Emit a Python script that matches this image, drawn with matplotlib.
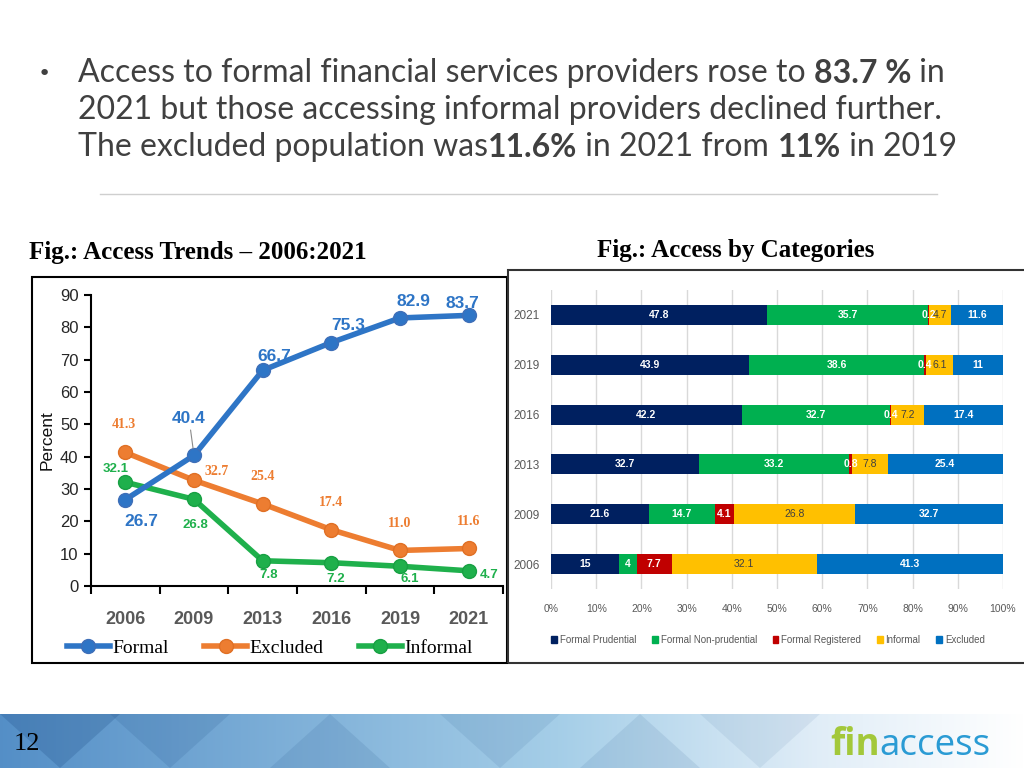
import numpy as np
import matplotlib.pyplot as plt
from matplotlib.lines import Line2D
from matplotlib.patches import Rectangle, Polygon

# ---- data ----
years = ['2006', '2009', '2013', '2016', '2019', '2021']
formal = [26.7, 40.4, 66.7, 75.3, 82.9, 83.7]
excluded = [41.3, 32.7, 25.4, 17.4, 11.0, 11.6]
informal = [32.1, 26.8, 7.8, 7.2, 6.1, 4.7]

cat_names = ['Formal Prudential', 'Formal Non-prudential', 'Formal Registered', 'Informal', 'Excluded']
prudential = [15, 21.6, 32.7, 42.2, 43.9, 47.8]
non_prudential = [4, 14.7, 33.2, 32.7, 38.6, 35.7]
registered = [7.7, 4.1, 0.8, 0.4, 0.4, 0.2]
informal_cat = [32.1, 26.8, 7.8, 7.2, 6.1, 4.7]
excluded_cat = [41.3, 32.7, 25.4, 17.4, 11, 11.6]

W, H = 1024, 768


def fx(px):
    return px / W


def fy(py):
    return 1 - py / H


fig = plt.figure(figsize=(10.24, 7.68), dpi=100)
overlay = fig.add_axes([0, 0, 1, 1], zorder=5)
overlay.set_xlim(0, 1)
overlay.set_ylim(0, 1)
overlay.axis('off')

# ---- bullet text ----
txt_color = '#404040'
txt_font = 'Lato'
txt_size = 23


def draw_runs(x, y, runs):
    t = overlay.text(x, y, runs[0][0], fontsize=txt_size, family=txt_font,
                     weight=runs[0][1], color=txt_color, va='baseline')
    for s, w in runs[1:]:
        t = overlay.annotate(s, xy=(1, 0), xycoords=t, fontsize=txt_size, family=txt_font,
                             weight=w, color=txt_color, va='bottom', ha='left')
    return t


overlay.text(fx(38), fy(80), '\u2022', fontsize=16, color=txt_color, va='baseline')
draw_runs(fx(78), fy(82), [('Access to formal financial services providers rose to ', 'normal'),
                           ('83.7 %', 'bold'), (' in', 'normal')])
draw_runs(fx(78), fy(119), [('2021 but those accessing informal providers declined further.', 'normal')])
draw_runs(fx(78), fy(156), [('The excluded population was', 'normal'), ('11.6%', 'bold'),
                            (' in 2021 from ', 'normal'), ('11%', 'bold'), (' in 2019', 'normal')])
overlay.add_line(Line2D([fx(100), fx(937)], [fy(194)] * 2, color='#cfcfcf', lw=1))

# ---- figure titles ----
overlay.text(fx(29), fy(252), 'Fig.: Access Trends \u2013 2006:2021', family='Liberation Serif',
             weight='bold', fontsize=18, va='center', color='black')
overlay.text(fx(597), fy(250), 'Fig.: Access by Categories', family='Liberation Serif',
             weight='bold', fontsize=18, va='center', color='black')

# chart frames
fig.add_artist(Rectangle((fx(32), fy(663)), fx(507) - fx(32), (663 - 277) / H,
                         transform=fig.transFigure, fill=False, ec='black', lw=1.5))
fig.add_artist(Rectangle((fx(508), fy(663)), fx(1030) - fx(508), (663 - 270) / H,
                         transform=fig.transFigure, fill=False, ec='#333333', lw=1.5))

# ---- left: line chart ----
ax1 = fig.add_axes([fx(91), fy(586), fx(503) - fx(91), (586 - 295) / H])
xs = np.arange(len(years)) + 0.5
c_formal, c_excl, c_inf = '#2e75c6', '#ed7d31', '#1fb04c'
ax1.plot(xs, informal, color=c_inf, lw=4, marker='o', ms=10, mec='#18a043', zorder=3)
ax1.plot(xs, excluded, color=c_excl, lw=4, marker='o', ms=10, mec='#e07025', zorder=3)
ax1.plot(xs, formal, color=c_formal, lw=4, marker='o', ms=10, mec='#3f6fb8', zorder=4)

ax1.set_xlim(0, len(years))
ax1.set_ylim(0, 90)
ax1.set_yticks(range(0, 91, 10))
ax1.set_xticks(np.arange(len(years) + 1))
ax1.set_xticklabels([])
ax1.set_xticks(xs, minor=True)
ax1.set_xticklabels(years, minor=True, family='Liberation Sans', weight='bold',
                    fontsize=13, color='#595959')
ax1.tick_params(axis='x', which='minor', length=0, pad=18)
ax1.tick_params(axis='x', which='major', length=6, width=1.5, direction='out')
ax1.tick_params(axis='y', length=5, width=1.5, labelsize=12, labelcolor='#262626', pad=4)
for lab in ax1.get_yticklabels():
    lab.set_family('Liberation Sans')
for s in ['top', 'right']:
    ax1.spines[s].set_visible(False)
for s in ['left', 'bottom']:
    ax1.spines[s].set_linewidth(1.5)
ax1.set_ylabel('Percent', family='Liberation Sans', fontsize=12.5, color='#111111', labelpad=4)

formal_off = [(16, -22), (-5, 37), (12, 14), (17, 17), (13, 16), (-6, 12)]
excl_off = [(-1, 28), (23, 9), (0, 27), (0, 27), (0, 27), (0, 27)]
inf_off = [(-10, 13), (1, -26), (6, -14), (4, -16), (10, -13), (20, -4)]
for i, v in enumerate(formal):
    arrow = dict(arrowstyle='-', color='#8a8a8a', lw=0.8, shrinkA=1, shrinkB=5) if i == 1 else None
    ax1.annotate(f'{v:.1f}', xy=(xs[i], v), xytext=formal_off[i], textcoords='offset pixels',
                 ha='center', va='center', color=c_formal, weight='bold', fontsize=12.5,
                 family='Liberation Sans', arrowprops=arrow, zorder=6)
for i, v in enumerate(excluded):
    ax1.annotate(f'{v:.1f}', xy=(xs[i], v), xytext=excl_off[i], textcoords='offset pixels',
                 ha='center', va='center', color=c_excl, weight='bold', fontsize=10,
                 family='Liberation Serif', zorder=6)
for i, v in enumerate(informal):
    ax1.annotate(f'{v:.1f}', xy=(xs[i], v), xytext=inf_off[i], textcoords='offset pixels',
                 ha='center', va='center', color=c_inf, weight='bold', fontsize=9.5,
                 family='Liberation Sans', zorder=6)

leg_handles = [Line2D([0], [0], color=c, lw=4, marker='o', ms=10, mec=m)
               for c, m in [(c_formal, '#3f6fb8'), (c_excl, '#e07025'), (c_inf, '#18a043')]]
fig.legend(leg_handles, ['Formal', 'Excluded', 'Informal'], loc='center',
           bbox_to_anchor=(fx(270), fy(648)), ncol=3, frameon=False,
           prop={'family': 'Liberation Serif', 'size': 14}, handlelength=2.2,
           handletextpad=0.15, columnspacing=1.8)

# ---- right: stacked bar chart ----
ax2 = fig.add_axes([fx(551), fy(589), fx(1003) - fx(551), (589 - 290) / H])
series = [prudential, non_prudential, registered, informal_cat, excluded_cat]
colors = ['#002060', '#00b050', '#c00000', '#ffc000', '#0070c0']
lab_colors = ['white', 'white', 'white', '#404040', 'white']
ypos = np.arange(len(years))
left = np.zeros(len(years))
for vals, c, lc, name in zip(series, colors, lab_colors, cat_names):
    bars = ax2.barh(ypos, vals, left=left, height=0.4, color=c, label=name, zorder=2)
    ax2.bar_label(bars, labels=[f'{v:g}' for v in vals], label_type='center', color=lc,
                  fontsize=7.5, weight='bold' if lc != '#404040' else 'normal',
                  family='Liberation Sans')
    left += np.array(vals)
ax2.set_xlim(0, 100)
ax2.set_ylim(-0.5, len(years) - 0.5)
ax2.set_yticks(ypos)
ax2.set_yticklabels(years, fontsize=8.5, color='#595959', family='Liberation Sans')
ax2.set_xticks(range(0, 101, 10))
ax2.set_xticklabels([f'{t}%' for t in range(0, 101, 10)], fontsize=7.5, color='#595959',
                    family='Liberation Sans')
ax2.tick_params(length=0)
ax2.tick_params(axis='x', pad=11)
ax2.tick_params(axis='y', pad=8)
ax2.grid(axis='x', color='#d9d9d9', lw=1, zorder=0)
for s in ax2.spines.values():
    s.set_visible(False)
fig.legend([Rectangle((0, 0), 1, 1, color=c) for c in colors], cat_names, loc='center',
           bbox_to_anchor=(fx(768), fy(640)), ncol=5, frameon=False,
           prop={'family': 'Liberation Sans', 'size': 7}, labelcolor='#595959',
           handlelength=0.6, handleheight=0.6, handletextpad=0.3, columnspacing=1.6)

# ---- footer banner ----
foot = fig.add_axes([0, 0, 1, 54 / H], zorder=1)
grad = np.linspace(0, 1, 400)
r = np.interp(grad, [0, 0.55, 0.8, 1], [0.33, 0.65, 0.88, 1.0])
g = np.interp(grad, [0, 0.55, 0.8, 1], [0.56, 0.81, 0.93, 1.0])
b = np.interp(grad, [0, 0.55, 0.8, 1], [0.78, 0.91, 0.97, 1.0])
img = np.dstack([r, g, b]).repeat(2, axis=0)
foot.imshow(img, aspect='auto', extent=(0, W, 0, 54))
for cx, top, a in [(60, True, 0.25), (170, True, 0.15), (330, False, 0.12), (500, True, 0.1),
                   (640, False, 0.1), (760, True, 0.08)]:
    cy = 54 if top else 0
    foot.add_patch(Polygon([(cx - 60, cy), (cx, cy + (-54 if top else 54)), (cx + 60, cy), (cx, cy + (54 if top else -54))],
                           closed=True, color='#1f4f88', alpha=a, lw=0))
foot.set_xlim(0, W)
foot.set_ylim(0, 54)
foot.axis('off')

overlay.text(fx(14), fy(744), '12', family='Liberation Serif', fontsize=19, va='center', color='black')
t = overlay.text(fx(830), fy(755), 'fin', family='Open Sans', weight='bold', fontsize=26.5,
                 color='#a3c83a', va='baseline')
overlay.annotate('access', xy=(1, 0), xycoords=t, family='Open Sans', weight='normal', fontsize=26.5,
                 color='#2a9bd4', va='bottom', ha='left')

fig.savefig('out.png', dpi=100)
